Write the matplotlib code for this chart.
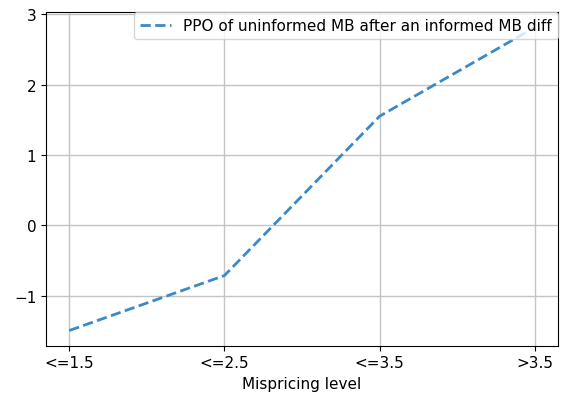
import matplotlib
matplotlib.use("Agg")
import matplotlib.pyplot as plt

levels = ["<=1.5", "<=2.5", "<=3.5", ">3.5"]
ppo_diff = [-1.49, -0.71, 1.55, 2.81]

plt.rcParams["font.size"] = 11

fig = plt.figure(figsize=(5.65, 4.02), dpi=100)
ax = fig.add_axes([0.0814, 0.1376, 0.9062, 0.8294])
ax.plot(levels, ppo_diff, linestyle="--", color="#3a8ac8", linewidth=2.0,
        label="PPO of uninformed MB after an informed MB diff")
ax.grid(True, color="#c4c4c4", linewidth=1.0)
ax.set_xlabel("Mispricing level")
ax.legend(loc="upper right", borderaxespad=0)
fig.savefig("out.png", dpi=100)
